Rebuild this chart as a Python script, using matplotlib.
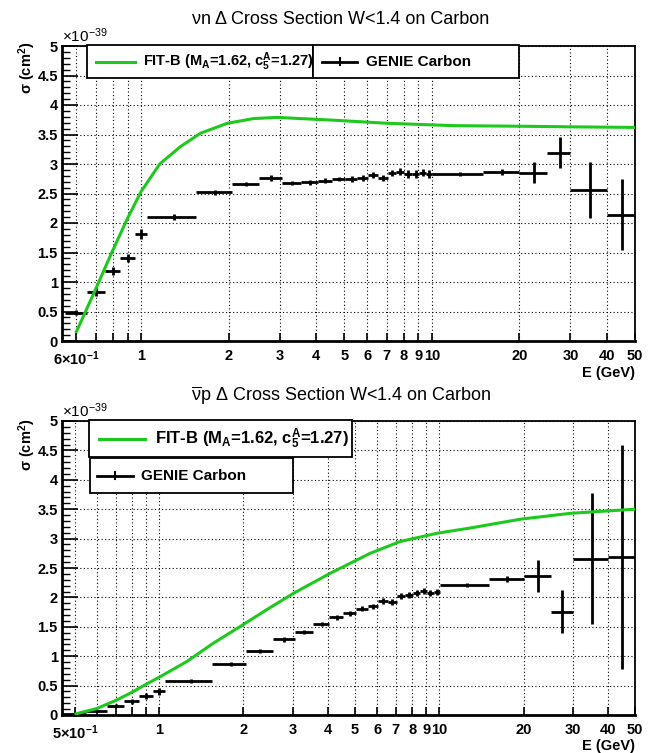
import numpy as np
import matplotlib
matplotlib.use("Agg")
import matplotlib.pyplot as plt
from matplotlib.patches import Rectangle
from matplotlib.lines import Line2D
from matplotlib.ticker import MultipleLocator

plt.rcParams['font.family'] = ['Liberation Sans', 'DejaVu Sans']
plt.rcParams['mathtext.fontset'] = 'custom'
plt.rcParams['mathtext.rm'] = 'Liberation Sans'
plt.rcParams['mathtext.bf'] = 'Liberation Sans:bold'
plt.rcParams['mathtext.it'] = 'Liberation Sans:italic'

# ---------------- data ----------------
# top panel: nu n
edges_top = [0.55, 0.65, 0.75, 0.85, 0.95, 1.05, 1.55, 2.05, 2.55, 3.05, 3.55, 4.05,
             4.55, 5.05, 5.55, 6.05, 6.55, 7.05, 7.55, 8.05, 8.55, 9.05, 9.55, 10.05,
             15, 20, 25, 30, 40, 50]
genie_top = [0.48, 0.835, 1.19, 1.41, 1.81, 2.10, 2.52, 2.66, 2.77, 2.68, 2.69, 2.72,
             2.745, 2.74, 2.76, 2.81, 2.77, 2.85, 2.87, 2.83, 2.83, 2.85, 2.83,
             2.83, 2.86, 2.85, 3.19, 2.56, 2.14]
genie_top_err = [0.04, 0.08, 0.07, 0.07, 0.08, 0.05, 0.04, 0.04, 0.05, 0.04, 0.04, 0.04,
                 0.04, 0.05, 0.05, 0.05, 0.05, 0.05, 0.06, 0.06, 0.06, 0.06, 0.06,
                 0.03, 0.05, 0.18, 0.26, 0.47, 0.60]
fit_top_E = [0.6, 0.692, 0.792, 0.893, 1.0, 1.16, 1.363, 1.6, 1.98, 2.44, 2.94, 3.53,
             4.49, 7.05, 11.9, 20.3, 30.1, 50]
fit_top_sigma = [0.16, 0.835, 1.49, 2.05, 2.53, 3.0, 3.29, 3.52, 3.69, 3.77, 3.79, 3.77,
                 3.745, 3.69, 3.65, 3.64, 3.63, 3.62]

# bottom panel: nubar p
edges_bot = [0.45, 0.55, 0.65, 0.75, 0.85, 0.95, 1.05, 1.55, 2.05, 2.55, 3.05, 3.55, 4.05,
             4.55, 5.05, 5.55, 6.05, 6.55, 7.05, 7.55, 8.05, 8.55, 9.05, 9.55, 10.05,
             15, 20, 25, 30, 40, 50]
genie_bot = [0.01, 0.07, 0.16, 0.23, 0.33, 0.40, 0.58, 0.87, 1.09, 1.29, 1.41, 1.55,
             1.66, 1.73, 1.81, 1.85, 1.94, 1.92, 2.03, 2.04, 2.08, 2.11, 2.07, 2.09,
             2.21, 2.31, 2.37, 1.76, 2.66, 2.69]
genie_bot_err = [0.01, 0.02, 0.03, 0.04, 0.05, 0.06, 0.03, 0.03, 0.04, 0.04, 0.04, 0.04,
                 0.04, 0.04, 0.04, 0.04, 0.05, 0.05, 0.05, 0.05, 0.05, 0.05, 0.05, 0.05,
                 0.04, 0.05, 0.27, 0.37, 1.12, 1.91]
fit_bot_E = [0.505, 0.599, 0.706, 0.81, 0.904, 1.008, 1.256, 1.56, 2.0, 2.42, 3.02, 4.08,
             5.67, 7.25, 9.8, 12.9, 19.5, 29.4, 50]
fit_bot_sigma = [0.02, 0.11, 0.255, 0.40, 0.53, 0.65, 0.91, 1.22, 1.54, 1.79, 2.07, 2.41,
                 2.75, 2.95, 3.09, 3.18, 3.33, 3.43, 3.50]

titles = ["νn Δ Cross Section W<1.4 on Carbon",
          r"$\overline{\mathrm{\nu}}$p Δ Cross Section W<1.4 on Carbon"]
fit_label = r"FIT-B (M$_{\mathbf{A}}$=1.62, c$_{\mathbf{5}}^{\mathbf{A}}$=1.27)"
genie_label = "GENIE Carbon"

GREEN = '#1ec81e'
W, H = 654, 753

fig = plt.figure(figsize=(W / 100, H / 100), dpi=100)


def fx(x):
    return x / W


def fy(y):
    return 1 - y / H


def make_axes(top_px, bot_px):
    return fig.add_axes([fx(62), fy(bot_px), fx(635) - fx(62), fy(top_px) - fy(bot_px)])


def style_axes(ax, xlo, first_tick, first_label):
    ax.set_xscale('log')
    ax.set_xlim(xlo, 50)
    ax.set_ylim(0, 5)
    xt = [first_tick] + [t for t in [0.6, 0.7, 0.8, 0.9] if t > first_tick] + \
         [1, 2, 3, 4, 5, 6, 7, 8, 9, 10, 20, 30, 40, 50]
    labs = []
    for t in xt:
        if t == first_tick:
            labs.append(first_label)
        elif t < 1:
            labs.append('')
        else:
            labs.append(str(t))
    ax.set_xticks(xt, labs)
    ax.xaxis.set_minor_locator(matplotlib.ticker.NullLocator())
    yt = np.arange(0, 5.01, 0.5)
    ax.set_yticks(yt, ['0' if v == 0 else ('%g' % v) for v in yt])
    ax.yaxis.set_minor_locator(MultipleLocator(0.1))
    ax.tick_params(axis='y', which='major', direction='in', length=11.5, width=1.2,
                   labelsize=10.5, pad=3)
    ax.tick_params(axis='y', which='minor', direction='in', length=5.8, width=1.0)
    ax.tick_params(axis='x', which='major', direction='in', length=5.5, width=1.2,
                   labelsize=10.5, pad=6)
    for lab in ax.get_xticklabels() + ax.get_yticklabels():
        lab.set_fontweight('bold')
    ax.grid(True, which='major', color='black', linestyle=(0, (1.0, 2.2)), linewidth=0.8)
    for s in ['left', 'bottom']:
        ax.spines[s].set_linewidth(2.0)
    for s in ['right', 'top']:
        ax.spines[s].set_linewidth(1.3)
    ax.set_axisbelow(True)


def draw_genie(ax, edges, vals, errs):
    e = np.array(edges, dtype=float)
    c = 0.5 * (e[:-1] + e[1:])
    ax.errorbar(c, vals, xerr=[c - e[:-1], e[1:] - c], yerr=errs, fmt='none',
                ecolor='black', elinewidth=2.0, capsize=0, zorder=3)


def legend_box(x0, y0, x1, y1, kind, text, lx0, lx1, tx, size):
    yc = (y0 + y1) / 2
    fig.add_artist(Rectangle((fx(x0), fy(y1)), fx(x1) - fx(x0), fy(y0) - fy(y1),
                             transform=fig.transFigure, facecolor='white',
                             edgecolor='black', linewidth=1.3, zorder=5))
    if kind == 'fit':
        fig.add_artist(Line2D([fx(lx0), fx(lx1)], [fy(yc), fy(yc)], color=GREEN,
                              linewidth=2.2, transform=fig.transFigure, zorder=6))
    else:
        fig.add_artist(Line2D([fx(lx0), fx(lx1)], [fy(yc), fy(yc)], color='black',
                              linewidth=2.0, transform=fig.transFigure, zorder=6))
        xm = (lx0 + lx1) / 2
        fig.add_artist(Line2D([fx(xm), fx(xm)], [fy(yc - 3.5), fy(yc + 3.5)], color='black',
                              linewidth=1.5, transform=fig.transFigure, zorder=6))
    fig.text(fx(tx), fy(yc), text, fontsize=size, fontweight='bold', ha='left',
             va='center', zorder=7)


# ---------------- top panel ----------------
ax1 = make_axes(46, 341)
style_axes(ax1, 0.535, 0.6, r'$\mathbf{6{\times}10^{-1}}$')
ax1.plot(fit_top_E, fit_top_sigma, color=GREEN, linewidth=2.2, zorder=4)
draw_genie(ax1, edges_top, genie_top, genie_top_err)

# ---------------- bottom panel ----------------
ax2 = make_axes(421, 715)
style_axes(ax2, 0.45, 0.5, r'$\mathbf{5{\times}10^{-1}}$')
ax2.plot(fit_bot_E, fit_bot_sigma, color=GREEN, linewidth=2.2, zorder=4)
draw_genie(ax2, edges_bot, genie_bot, genie_bot_err)

# titles, axis titles, multipliers
for title, ty, sy, my, ey in [(titles[0], 20, 68, 36, 373), (titles[1], 396, 445, 411, 746)]:
    fig.text(fx(341), fy(ty), title, fontsize=13, ha='center', va='center')
    fig.text(fx(27), fy(sy), 'σ (cm$^{\\mathbf{2}}$)', fontsize=10.5,
             fontweight='bold', rotation=90, ha='center', va='center')
    fig.text(fx(62), fy(my), r'$\times$10$^{-39}$', fontsize=11, ha='left', va='center')
    fig.text(fx(635), fy(ey), 'E (GeV)', fontsize=10.5, fontweight='bold', ha='right',
             va='center')

# legends
legend_box(87, 45, 313, 78, 'fit', fit_label, 96, 135, 143, 10.5)
legend_box(313, 45, 519, 78, 'genie', genie_label, 322, 357, 366, 11)
legend_box(89, 420, 352, 457, 'fit', fit_label, 99, 145, 155, 12)
legend_box(90, 458, 293, 493, 'genie', genie_label, 97, 133, 141, 11)

fig.savefig('out.png', dpi=100)
